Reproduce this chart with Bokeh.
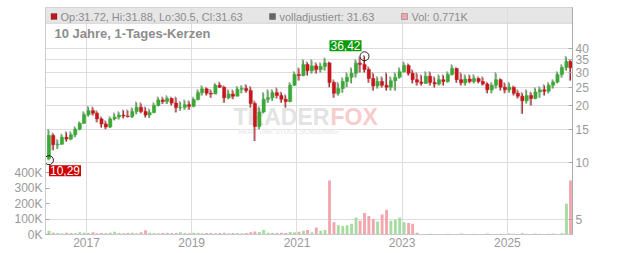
from datetime import datetime, timedelta
import numpy as np
from bokeh.plotting import figure
from bokeh.models import (Range1d, LinearAxis, LinearScale, FixedTicker, PrintfTickFormatter,
                          DatetimeTickFormatter, BoxAnnotation, Label, Span, ColumnDataSource)
from bokeh.embed import file_html
from bokeh.resources import INLINE

# ---------------- data (monthly candles) ----------------
first_year, first_month = 2016, 4
opens = [10.5, 13.9, 12.4, 12.5, 13.6, 13.3, 14.0, 15.0, 16.1, 17.9,
         18.8, 18.2, 17.0, 16.0, 15.4, 17.0, 17.4, 17.8, 17.6, 17.5,
         18.6, 19.6, 18.6, 17.8, 18.4, 20.0, 21.4, 21.0, 21.8, 20.6,
         19.5, 19.6, 20.2, 19.8, 21.5, 23.4, 24.5, 23.2, 23.0, 25.6,
         25.0, 22.0, 23.0, 22.4, 24.4, 24.6, 24.0, 20.5, 15.5, 18.5,
         21.6, 22.0, 23.4, 22.6, 21.6, 21.0, 25.6, 29.2, 28.8, 33.0,
         30.5, 32.4, 31.0, 32.2, 33.6, 26.5, 23.2, 24.6, 26.8, 28.2,
         29.6, 33.5, 33.0, 31.0, 27.8, 25.4, 26.8, 25.6, 25.0, 27.0,
         28.2, 30.2, 32.6, 29.6, 27.4, 26.6, 26.2, 28.6, 26.5, 26.0,
         27.4, 26.8, 29.2, 31.4, 27.4, 26.4, 27.6, 26.8, 27.8, 26.8,
         26.0, 24.2, 25.6, 27.4, 25.0, 24.2, 25.0, 23.2, 22.4, 21.2,
         22.6, 21.8, 23.6, 24.2, 23.8, 25.6, 26.6, 29.2, 31.8, 34.2]
highs = [14.8, 14.2, 13.1, 14.0, 14.4, 14.4, 15.3, 16.3, 18.4, 19.6,
         19.5, 18.6, 17.3, 16.5, 17.3, 18.1, 18.4, 18.8, 18.8, 19.3,
         20.7, 20.5, 19.5, 19.0, 20.5, 22.0, 22.0, 22.3, 22.0, 22.0,
         20.8, 21.2, 21.0, 21.9, 24.0, 25.2, 24.8, 24.1, 26.0, 26.4,
         25.2, 24.0, 24.0, 25.0, 25.3, 25.6, 25.0, 21.0, 19.5, 23.2,
         24.0, 24.0, 24.6, 23.4, 22.6, 26.2, 29.9, 31.4, 34.6, 33.7,
         34.6, 33.4, 33.4, 35.4, 33.8, 27.1, 26.2, 27.8, 29.5, 31.4,
         34.6, 35.8, 36.42, 31.8, 29.5, 28.1, 28.1, 29.5, 28.1, 29.5,
         31.4, 33.7, 33.0, 30.6, 29.5, 28.8, 29.9, 29.9, 28.1, 28.8,
         28.8, 29.9, 32.6, 31.6, 29.5, 28.8, 28.8, 28.8, 28.1, 28.1,
         26.4, 26.2, 29.5, 27.6, 26.2, 26.2, 25.2, 24.0, 23.2, 24.0,
         23.4, 24.6, 24.9, 25.5, 26.2, 27.1, 29.9, 32.6, 36.0, 34.6]
lows = [10.29, 11.6, 11.8, 12.4, 12.9, 13.1, 13.6, 14.8, 16.0, 17.5,
        17.7, 16.3, 15.3, 15.0, 15.2, 16.7, 16.9, 17.1, 17.3, 17.2,
        18.0, 18.2, 17.3, 17.2, 18.2, 19.8, 20.4, 20.4, 20.0, 18.4,
        18.8, 19.0, 19.0, 19.6, 21.3, 22.6, 22.6, 22.0, 23.0, 24.8,
        20.7, 21.6, 21.6, 22.4, 23.2, 23.4, 19.5, 13.0, 15.0, 18.2,
        20.7, 21.2, 21.8, 20.7, 19.5, 20.8, 25.4, 27.1, 28.6, 28.8,
        29.5, 29.5, 29.9, 30.6, 25.0, 22.0, 22.6, 23.4, 25.0, 26.2,
        28.1, 29.9, 29.9, 26.4, 24.0, 24.6, 24.9, 24.0, 24.0, 24.0,
        27.8, 29.9, 28.8, 26.2, 25.5, 25.5, 26.0, 25.5, 24.9, 25.5,
        25.5, 26.4, 28.8, 26.4, 25.5, 25.5, 26.2, 26.2, 26.2, 25.5,
        23.2, 23.2, 24.6, 24.0, 23.2, 23.4, 22.6, 21.8, 18.1, 20.5,
        20.0, 21.6, 22.0, 22.6, 23.2, 24.6, 26.2, 28.1, 30.6, 27.1]
closes = [13.9, 12.4, 12.5, 13.6, 13.3, 14.0, 15.0, 16.1, 17.9, 18.8,
          18.2, 17.0, 16.0, 15.4, 17.0, 17.4, 17.8, 17.6, 17.5, 18.6,
          19.6, 18.6, 17.8, 18.4, 20.0, 21.4, 21.0, 21.8, 20.6, 19.5,
          19.6, 20.2, 19.8, 21.5, 23.4, 24.5, 23.2, 23.0, 25.6, 25.0,
          22.0, 23.0, 22.4, 24.4, 24.6, 24.0, 20.5, 15.5, 18.5, 21.6,
          22.0, 23.4, 22.6, 21.6, 21.0, 25.6, 29.2, 28.8, 33.0, 30.5,
          32.4, 31.0, 32.2, 33.6, 26.5, 23.2, 24.6, 26.8, 28.2, 29.6,
          33.5, 33.0, 31.0, 27.8, 25.4, 26.8, 25.6, 25.0, 27.0, 28.2,
          30.2, 32.6, 29.6, 27.4, 26.6, 26.2, 28.6, 26.5, 26.0, 27.4,
          26.8, 29.2, 31.4, 27.4, 26.4, 27.6, 26.8, 27.8, 26.8, 26.0,
          24.2, 25.6, 27.4, 25.0, 24.2, 25.0, 23.2, 22.4, 21.2, 22.6,
          21.8, 23.6, 24.2, 23.8, 25.6, 26.6, 29.2, 31.8, 34.2, 31.63]
volumes_k = [25, 12, 10, 8, 12, 10, 8, 15, 12, 10,
             14, 8, 10, 8, 12, 18, 10, 8, 10, 12,
             8, 15, 28, 12, 10, 8, 10, 12, 9, 10,
             15, 10, 8, 12, 10, 8, 10, 9, 8, 10,
             12, 8, 10, 9, 8, 10, 14, 20, 16, 30,
             12, 10, 9, 12, 10, 16, 14, 18, 24, 30,
             15, 45, 25, 30, 350, 80, 60, 55, 60, 70,
             110, 90, 140, 120, 100, 85, 130, 160, 90, 95,
             110, 80, 75, 70, 12, 4, 3, 5, 3, 4,
             3, 5, 4, 3, 6, 3, 4, 5, 3, 4,
             6, 4, 3, 5, 4, 6, 5, 4, 8, 5,
             4, 6, 5, 4, 5, 6, 4, 8, 200, 350]
year_ticks = [2017, 2019, 2021, 2023, 2025]
price_ticks = [5, 10, 15, 20, 25, 30, 35, 40]
volume_ticks = [0, 100, 200, 300, 400]
header_ohlc = "Op:31.72, Hi:31.88, Lo:30.5, Cl:31.63"
header_adj = "volladjustiert: 31.63"
header_vol = "Vol: 0.771K"
title_text = "10 Jahre, 1-Tages-Kerzen"
watermark_a, watermark_b = "TRADER", "FOX"
watermark_sub = "REAL TIME STOCK SCREENING"

# ---------------- derived ----------------
dates = []
for i in range(len(closes)):
    m = first_month - 1 + i
    dates.append(datetime(first_year + m // 12, m % 12 + 1, 15))

o = np.array(opens); h = np.array(highs); l = np.array(lows); c = np.array(closes)
up = c >= o
INC, DEC = "#3aa935", "#c8161d"
colors = [INC if u else DEC for u in up]
vcolors = ["#a6dca2" if u else "#f2a6ae" for u in up]

src = ColumnDataSource(dict(
    date=dates, open=o, high=h, low=l, close=c,
    top=np.maximum(o, c), bottom=np.minimum(o, c), color=colors,
    vol=volumes_k, vcolor=vcolors,
    gdate=[d - timedelta(days=6) for d in dates], ghigh=h * 1.015,
))

EPOCH = datetime(1970, 1, 1)
def to_ms(d):
    return (d - EPOCH).total_seconds() * 1000.0

X0, X1 = datetime(2016, 3, 22), datetime(2026, 3, 29)
Y0, Y1 = 4.166, 65.92
FL, FR, FT, FB = 45, 572, 7, 234
W, H = 632, 253

def px2x(px):
    return to_ms(X0 + (X1 - X0) * ((px - FL) / (FR - FL)))

def py2y(py):
    return 10 ** (np.log10(Y0) + (FB - py) / (FB - FT) * (np.log10(Y1) - np.log10(Y0)))

FONT = "Liberation Sans"

p = figure(width=W, height=H, x_axis_type="datetime", y_axis_type="log",
           y_axis_location="right",
           x_range=Range1d(X0, X1), y_range=Range1d(Y0, Y1),
           output_backend="svg", toolbar_location=None,
           min_border_left=FL, min_border_right=W - FR,
           min_border_top=FT, min_border_bottom=H - FB)
p.background_fill_color = "white"
p.border_fill_color = "white"
p.outline_line_color = "#cccccc"

# grids
p.xgrid.ticker = FixedTicker(ticks=[to_ms(datetime(y, 1, 1)) for y in year_ticks])
p.ygrid.ticker = FixedTicker(ticks=price_ticks)
p.xgrid.grid_line_color = "#dddddd"
p.ygrid.grid_line_color = "#dddddd"

# header band (under the grid)
band = BoxAnnotation(bottom=py2y(22.7), fill_color="#e6e6e6", fill_alpha=1.0,
                     line_color=None, level="underlay")
p.center = [band] + list(p.center)
p.add_layout(Span(location=py2y(22.7), dimension="width", line_color="#d2d2d2",
                  line_width=1, level="underlay"))

# axes
xa = p.xaxis[0]
xa.ticker = FixedTicker(ticks=[to_ms(datetime(y, 1, 1)) for y in year_ticks])
xa.formatter = DatetimeTickFormatter(years="%Y", months="%Y", days="%Y", hours="%Y")
xa.major_tick_in = 0
xa.major_tick_out = 0
xa.minor_tick_line_color = None
xa.axis_line_color = "#c8c8c8"
xa.major_label_text_color = "#9a9a9a"
xa.major_label_text_font_size = "12px"
xa.major_label_text_font = FONT
xa.major_label_standoff = 3

ya = p.yaxis[0]
ya.ticker = FixedTicker(ticks=price_ticks)
ya.formatter = PrintfTickFormatter(format="%d")
ya.major_tick_in = 4
ya.major_tick_out = 0
ya.minor_tick_line_color = None
ya.axis_line_color = "#aaaaaa"
ya.major_tick_line_color = "#aaaaaa"
ya.major_label_text_color = "#9a9a9a"
ya.major_label_text_font_size = "12px"
ya.major_label_text_font = FONT
ya.major_label_standoff = 3

p.extra_y_ranges = {"vol": Range1d(0, (FB - FT) / 15.4 * 100)}
p.extra_y_scales = {"vol": LinearScale()}
va = LinearAxis(y_range_name="vol", ticker=FixedTicker(ticks=volume_ticks),
                formatter=PrintfTickFormatter(format="%dK"))
va.major_tick_in = 4
va.major_tick_out = 0
va.minor_tick_line_color = None
va.axis_line_color = "#cccccc"
va.major_tick_line_color = "#aaaaaa"
va.major_label_text_color = "#9a9a9a"
va.major_label_text_font_size = "12px"
va.major_label_text_font = FONT
va.major_label_standoff = 3
p.add_layout(va, "left")

# watermark
p.add_layout(Label(x=px2x(233), y=py2y(116), text=watermark_a, text_baseline="middle",
                   text_font=FONT, text_font_style="bold", text_font_size="23px",
                   text_color="#e3e3e3", level="underlay"))
p.add_layout(Label(x=px2x(330), y=py2y(116), text=watermark_b, text_baseline="middle",
                   text_font=FONT, text_font_style="bold", text_font_size="23px",
                   text_color="#f7cccc", level="underlay"))
p.add_layout(Label(x=px2x(238), y=py2y(131), text=watermark_sub, text_baseline="middle",
                   text_font=FONT, text_font_style="bold", text_font_size="6.5px",
                   text_color="#ececec", level="underlay"))

# volume
p.vbar(x="date", width=20 * 86400000, top="vol", bottom=0, fill_color="vcolor",
       line_color=None, source=src, y_range_name="vol")

# adjusted (grey) shadow + candles
p.segment(x0="gdate", x1="gdate", y0="low", y1="ghigh", line_color="#8a8a8a",
          line_width=1.5, line_alpha=0.8, source=src)
p.segment(x0="date", x1="date", y0="low", y1="high", line_color="color",
          line_width=1, source=src)
p.vbar(x="date", width=22 * 86400000, top="top", bottom="bottom",
       fill_color="color", line_color="color", line_width=0.5, source=src)

# extreme markers
imax = int(np.argmax(h)); imin = int(np.argmin(l))
p.scatter(x=[dates[imax], dates[imin]], y=[h[imax], l[imin]], size=9,
          fill_color=None, line_color="#222222", line_width=1)
fmt = lambda v: ("%.2f" % v).replace(".", ",")
p.add_layout(Label(x=to_ms(dates[imax]), y=h[imax], text=fmt(h[imax]),
                   text_align="right", text_baseline="bottom", x_offset=-3, y_offset=5,
                   text_font=FONT, text_font_size="12px", text_color="white",
                   background_fill_color="#0a9a0a", padding=1))
p.add_layout(Label(x=to_ms(dates[imin]), y=l[imin], text=fmt(l[imin]),
                   text_align="left", text_baseline="top", x_offset=0, y_offset=-5,
                   text_font=FONT, text_font_size="12px", text_color="white",
                   background_fill_color="#cc0000", padding=1))

# header legend
for (x0, x1, fillc, txt, tx) in [(50.5, 56.5, "#c0161c", header_ohlc, 60),
                                  (269, 275, "#666666", header_adj, 279),
                                  (401, 407, "#f0a6ae", header_vol, 411)]:
    p.add_layout(BoxAnnotation(left=px2x(x0), right=px2x(x1), top=py2y(13), bottom=py2y(19),
                               fill_color=fillc, fill_alpha=1.0, line_color="#333333",
                               line_width=1))
    p.add_layout(Label(x=px2x(tx), y=py2y(16), text=txt, text_baseline="middle",
                       text_font=FONT, text_font_size="11px", text_color="#8c8c8c"))

p.add_layout(Label(x=px2x(54), y=py2y(33), text=title_text, text_baseline="middle",
                   text_font=FONT, text_font_style="bold", text_font_size="13px",
                   text_color="#8c8c8c"))

open("out.html", "w").write(file_html(p, INLINE))
